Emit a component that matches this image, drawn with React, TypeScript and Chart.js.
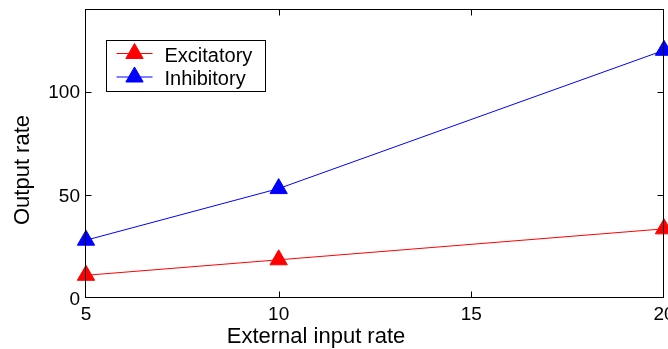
import React, { useEffect, useRef } from 'react';
import { Chart, registerables } from 'chart.js';

Chart.register(...registerables);

// ---- data ----
const inputRates = [5, 10, 20];
const excitatoryRates = [11, 18.5, 33.5];
const inhibitoryRates = [28, 53, 120];
const seriesLabels = ['Excitatory', 'Inhibitory'];
const seriesColors = ['#ff0000', '#0000ff'];
const xTickValues = [5, 10, 15, 20];
const yTickValues = [0, 50, 100];
const xRange = [5, 20];
const yRange = [0, 140];
const xTitle = 'External input rate';
const yTitle = 'Output rate';

const FONT = "'Liberation Sans', Arial, Helvetica, sans-serif";

function triangle(ctx: CanvasRenderingContext2D, cx: number, cy: number, r: number) {
  const h = Math.sin(Math.PI / 3) * r;
  ctx.beginPath();
  ctx.moveTo(cx, cy - r);
  ctx.lineTo(cx + h, cy + r / 2);
  ctx.lineTo(cx - h, cy + r / 2);
  ctx.closePath();
}

const framePlugin = {
  id: 'matlabFrame',
  afterDatasetsDraw(chart: any) {
    const { ctx, chartArea: a, scales } = chart;
    const L = Math.round(a.left) - 0.5;
    const R = Math.round(a.right) - 0.5;
    const T = Math.round(a.top) + 0.5;
    const B = Math.round(a.bottom) - 0.5;
    ctx.save();
    ctx.strokeStyle = '#000';
    ctx.lineWidth = 1;
    ctx.strokeRect(L, T, R - L, B - T);
    const tl = 6;
    ctx.beginPath();
    scales.x.ticks.forEach((t: any) => {
      const px = Math.round(scales.x.getPixelForValue(t.value)) + 0.5;
      if (px - L < 2 || R - px < 2) return;
      ctx.moveTo(px, B);
      ctx.lineTo(px, B - tl);
      ctx.moveTo(px, T);
      ctx.lineTo(px, T + tl);
    });
    scales.y.ticks.forEach((t: any) => {
      const py = Math.round(scales.y.getPixelForValue(t.value)) + 0.5;
      if (py - T < 2 || B - py < 2) return;
      ctx.moveTo(L, py);
      ctx.lineTo(L + tl, py);
      ctx.moveTo(R, py);
      ctx.lineTo(R - tl, py);
    });
    ctx.stroke();
    ctx.restore();
  },
  afterDraw(chart: any) {
    const { ctx, chartArea: a } = chart;
    ctx.save();
    ctx.fillStyle = '#000';
    // axis titles
    ctx.font = `22px ${FONT}`;
    ctx.textAlign = 'center';
    ctx.textBaseline = 'alphabetic';
    ctx.fillText(xTitle, a.left + 230, 343);
    ctx.save();
    ctx.translate(29, a.top + 161);
    ctx.rotate(-Math.PI / 2);
    ctx.fillText(yTitle, 0, 0);
    ctx.restore();

    // legend
    const bx = a.left + 20.5;
    const by = a.top + 31.5;
    const bw = 159;
    const bh = 51;
    ctx.fillStyle = '#fff';
    ctx.fillRect(bx, by, bw, bh);
    ctx.strokeStyle = '#000';
    ctx.lineWidth = 1;
    ctx.strokeRect(bx, by, bw, bh);
    ctx.font = `20px ${FONT}`;
    ctx.textAlign = 'left';
    chart.data.datasets.forEach((ds: any, i: number) => {
      const rowY = by + 13 + i * 23.5;
      ctx.strokeStyle = ds.borderColor;
      ctx.beginPath();
      ctx.moveTo(bx + 10, rowY);
      ctx.lineTo(bx + 46, rowY);
      ctx.stroke();
      ctx.fillStyle = ds.backgroundColor;
      triangle(ctx, bx + 28, rowY, 10);
      ctx.fill();
      ctx.stroke();
      ctx.fillStyle = '#000';
      ctx.fillText(ds.label, bx + 58, rowY + 8);
    });
    ctx.restore();
  },
};

export default function App() {
  const ref = useRef<HTMLCanvasElement>(null);
  useEffect(() => {
    document.body.style.margin = '0';
    const makeSet = (i: number, values: number[]) => ({
      label: seriesLabels[i],
      data: inputRates.map((x, k) => ({ x, y: values[k] })),
      borderColor: seriesColors[i],
      backgroundColor: seriesColors[i],
      borderWidth: 1,
      pointStyle: 'triangle',
      pointRadius: 10,
      pointBorderWidth: 1,
      pointBackgroundColor: seriesColors[i],
      pointBorderColor: seriesColors[i],
      tension: 0,
      clip: false as any,
    });
    const chart = new Chart(ref.current!, {
      type: 'line',
      data: {
        datasets: [makeSet(0, excitatoryRates), makeSet(1, inhibitoryRates)],
      },
      plugins: [framePlugin],
      options: {
        responsive: false,
        animation: false,
        events: [],
        layout: { autoPadding: false, padding: { top: 9, right: 4, left: 0, bottom: 0 } },
        plugins: {
          legend: { display: false },
          tooltip: { enabled: false },
          title: { display: false },
        },
        scales: {
          x: {
            type: 'linear',
            position: 'bottom',
            min: xRange[0],
            max: xRange[1],
            afterBuildTicks: (s: any) => {
              s.ticks = xTickValues.map((v) => ({ value: v }));
            },
            ticks: {
              font: { family: FONT, size: 19 },
              color: '#000',
              padding: 5,
              maxRotation: 0,
              autoSkip: false,
              callback: (v: any) => String(v),
            },
            grid: { display: false, drawTicks: false },
            border: { display: false },
            afterFit: (s: any) => {
              s.height = 51;
              s.paddingLeft = 0;
              s.paddingRight = 0;
            },
          },
          y: {
            type: 'linear',
            position: 'left',
            min: yRange[0],
            max: yRange[1],
            afterBuildTicks: (s: any) => {
              s.ticks = yTickValues.map((v) => ({ value: v }));
            },
            ticks: {
              font: { family: FONT, size: 19 },
              color: '#000',
              padding: 6,
              labelOffset: 1.5,
              autoSkip: false,
              callback: (v: any) => String(v),
            },
            grid: { display: false, drawTicks: false },
            border: { display: false },
            afterFit: (s: any) => {
              s.width = 86;
              s.paddingTop = 0;
              s.paddingBottom = 0;
            },
          },
        },
      } as any,
    });
    return () => chart.destroy();
  }, []);
  return (
    <div style={{ position: 'absolute', left: 0, top: 0, width: 668, height: 349, background: '#fff' }}>
      <canvas ref={ref} width={668} height={349} style={{ display: 'block', width: 668, height: 349 }} />
    </div>
  );
}
